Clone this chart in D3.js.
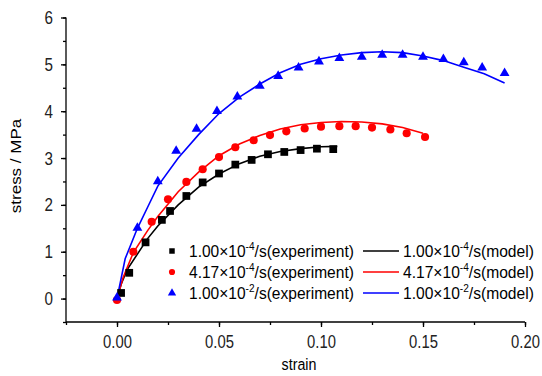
<!DOCTYPE html>
<html>
<head>
<meta charset="utf-8">
<script src="https://cdn.jsdelivr.net/npm/d3@7"></script>
<style>
  body { margin: 0; background: #fff; }
  text { font-family: "Liberation Sans", Arial, sans-serif; }
</style>
</head>
<body>
<script>
var width = 542, height = 376;

// experiment points
var expSlowX = [0.002, 0.006, 0.014, 0.022, 0.026, 0.034, 0.042, 0.050, 0.058, 0.066, 0.074, 0.082, 0.090, 0.098, 0.106];
var expSlowY = [0.12, 0.55, 1.20, 1.68, 1.87, 2.19, 2.48, 2.67, 2.86, 2.96, 3.08, 3.13, 3.17, 3.20, 3.19];
var expMidX = [0.000, 0.008, 0.017, 0.025, 0.034, 0.042, 0.050, 0.058, 0.067, 0.075, 0.083, 0.092, 0.100, 0.109, 0.117, 0.125, 0.134, 0.142, 0.151];
var expMidY = [-0.03, 1.00, 1.64, 2.12, 2.49, 2.76, 3.02, 3.23, 3.38, 3.49, 3.57, 3.63, 3.67, 3.68, 3.68, 3.65, 3.61, 3.53, 3.45];
var expFastX = [0.000, 0.010, 0.020, 0.029, 0.039, 0.049, 0.059, 0.070, 0.079, 0.089, 0.099, 0.109, 0.120, 0.130, 0.140, 0.150, 0.160, 0.170, 0.179, 0.190];
var expFastY = [0.02, 1.51, 2.50, 3.15, 3.62, 4.00, 4.31, 4.54, 4.75, 4.93, 5.06, 5.13, 5.16, 5.20, 5.20, 5.16, 5.11, 5.04, 4.93, 4.81];

// model curves
var modSlowX = [0, 0.002, 0.005, 0.010, 0.015, 0.020, 0.030, 0.040, 0.050, 0.060, 0.070, 0.080, 0.090, 0.100, 0.108];
var modSlowY = [0, 0.30, 0.62, 0.95, 1.28, 1.55, 2.00, 2.38, 2.66, 2.88, 3.04, 3.14, 3.20, 3.24, 3.25];
var modMidX = [0, 0.003, 0.008, 0.015, 0.020, 0.030, 0.040, 0.050, 0.060, 0.070, 0.080, 0.090, 0.100, 0.110, 0.120, 0.130, 0.140, 0.150];
var modMidY = [0, 0.45, 0.98, 1.45, 1.75, 2.28, 2.70, 3.05, 3.30, 3.48, 3.62, 3.71, 3.76, 3.78, 3.77, 3.73, 3.65, 3.53];
var modFastX = [0, 0.004, 0.010, 0.015, 0.020, 0.030, 0.040, 0.050, 0.060, 0.070, 0.080, 0.090, 0.100, 0.110, 0.120, 0.130, 0.140, 0.150, 0.160, 0.170, 0.180, 0.190];
var modFastY = [0, 0.85, 1.50, 1.95, 2.40, 3.00, 3.50, 3.95, 4.30, 4.58, 4.82, 5.00, 5.12, 5.20, 5.25, 5.27, 5.25, 5.18, 5.08, 4.94, 4.80, 4.60];

var rates = [["1.00", "-4"], ["4.17", "-4"], ["1.00", "-2"]];
var colors = ["#000000", "#ff0000", "#0000ff"];
var xTicks = [0, 0.05, 0.10, 0.15, 0.20];
var yTicks = [0, 1, 2, 3, 4, 5, 6];

var svg = d3.select("body").append("svg")
    .attr("width", width)
    .attr("height", height);

var x = d3.scaleLinear().domain([-0.025, 0.20]).range([66, 525]);
var y = d3.scaleLinear().domain([-0.5, 6]).range([322, 17.5]);

// squeeze a text horizontally around its anchor point (the fonts here are wider than the original)
function squeeze(sel, k, ax) {
    sel.attr("transform", "translate(" + ax + ",0) scale(" + k + ",1) translate(" + (-ax) + ",0)");
}
function fitWidth(sel, w, ax) {
    var bw = sel.node().getBBox().width;
    squeeze(sel, w / bw, ax);
}

// minor ticks
svg.append("g")
    .attr("transform", "translate(0,322)")
    .call(d3.axisBottom(x).tickValues(d3.range(-0.025, 0.2001, 0.025)).tickSize(3).tickFormat(""))
    .call(g => g.select(".domain").remove());
svg.append("g")
    .attr("transform", "translate(66,0)")
    .call(d3.axisLeft(y).tickValues(d3.range(-0.5, 6.01, 0.5)).tickSize(3).tickFormat(""))
    .call(g => g.select(".domain").remove());

var xAxis = svg.append("g")
    .attr("transform", "translate(0,322)")
    .call(d3.axisBottom(x).tickValues(xTicks).tickSize(5).tickPadding(8).tickFormat(d3.format(".2f")))
    .call(g => g.select(".domain").attr("d", "M66,0H525"));
var yAxis = svg.append("g")
    .attr("transform", "translate(66,0)")
    .call(d3.axisLeft(y).tickValues(yTicks).tickSize(5).tickPadding(8).tickFormat(d3.format("d")))
    .call(g => g.select(".domain").attr("d", "M0,17.5V322"));

svg.selectAll(".tick line, .domain").attr("stroke", "#000").attr("stroke-width", 1.3);
svg.selectAll(".tick text").style("font-size", "19px").attr("fill", "#222");
xAxis.selectAll(".tick text").each(function () { squeeze(d3.select(this), 0.78, 0); });
yAxis.selectAll(".tick text").each(function () { squeeze(d3.select(this), 0.8, -13); });

var xLabel = svg.append("text")
    .attr("x", 299).attr("y", 370)
    .attr("text-anchor", "middle")
    .style("font-size", "17px")
    .text("strain");
squeeze(xLabel, 0.84, 299);
svg.append("text")
    .attr("transform", "translate(21,166) rotate(-90) scale(1,0.84)")
    .attr("text-anchor", "middle")
    .style("font-size", "17px")
    .text("stress / MPa");

// model lines
var line = d3.line().x(d => x(d[0])).y(d => y(d[1]));
var models = [d3.zip(modSlowX, modSlowY), d3.zip(modMidX, modMidY), d3.zip(modFastX, modFastY)];
models.forEach(function (m, i) {
    svg.append("path")
        .datum(m)
        .attr("d", line)
        .attr("fill", "none")
        .attr("stroke", colors[i])
        .attr("stroke-width", 1.6);
});

// experiment markers
var symbols = [d3.symbolSquare, d3.symbolCircle, d3.symbolTriangle];
var sizes = [60, 52, 42];
var exps = [d3.zip(expSlowX, expSlowY), d3.zip(expMidX, expMidY), d3.zip(expFastX, expFastY)];
exps.forEach(function (e, i) {
    svg.append("g").selectAll("path")
        .data(e)
        .enter().append("path")
        .attr("transform", d => "translate(" + x(d[0]) + "," + y(d[1]) + ")")
        .attr("d", d3.symbol().type(symbols[i]).size(sizes[i]))
        .attr("fill", colors[i]);
});

// legend
var legend = svg.append("g");
rates.forEach(function (r, i) {
    var ly = 251 + i * 21;
    legend.append("path")
        .attr("transform", "translate(172," + ly + ")")
        .attr("d", d3.symbol().type(symbols[i]).size(30))
        .attr("fill", colors[i]);
    var t1 = legend.append("text").attr("x", 189).attr("y", ly + 6).style("font-size", "17px");
    t1.append("tspan").text(r[0] + "\u00d710");
    t1.append("tspan").attr("dy", -7).style("font-size", "11px").text(r[1]);
    t1.append("tspan").attr("dy", 7).text("/s(experiment)");
    fitWidth(t1, 165, 189);
    legend.append("line")
        .attr("x1", 363).attr("x2", 399)
        .attr("y1", ly).attr("y2", ly)
        .attr("stroke", colors[i])
        .attr("stroke-width", 1.6);
    var t2 = legend.append("text").attr("x", 403).attr("y", ly + 6).style("font-size", "17px");
    t2.append("tspan").text(r[0] + "\u00d710");
    t2.append("tspan").attr("dy", -7).style("font-size", "11px").text(r[1]);
    t2.append("tspan").attr("dy", 7).text("/s(model)");
    fitWidth(t2, 131, 403);
});
</script>
</body>
</html>
